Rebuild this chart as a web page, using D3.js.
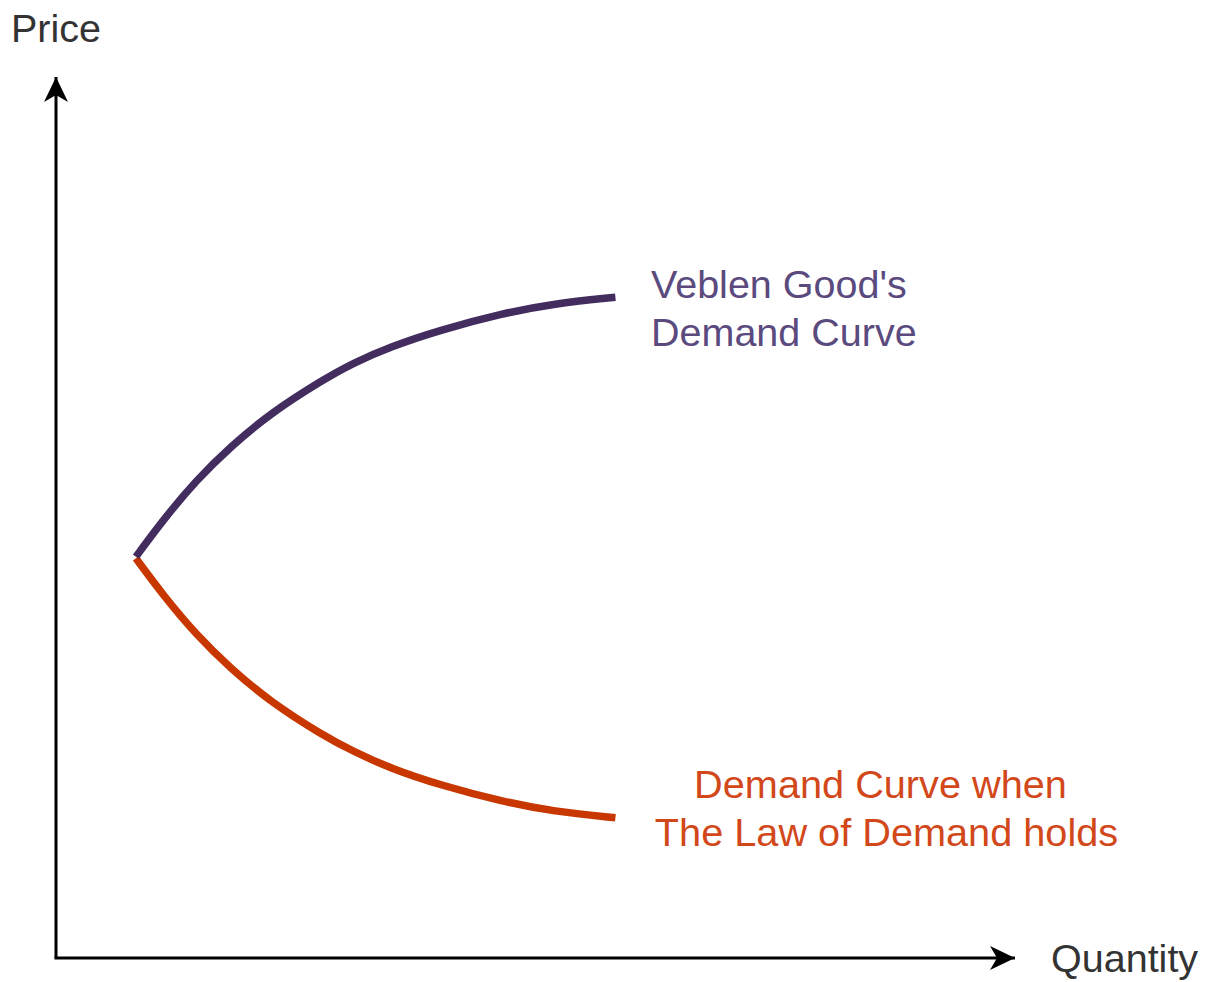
<!DOCTYPE html>
<html>
<head>
<meta charset="utf-8">
<script src="https://cdn.jsdelivr.net/npm/d3@7"></script>
<style>
  html, body { margin: 0; padding: 0; background: #fff; }
  svg { display: block; }
  text { font-family: "Liberation Sans", Arial, Helvetica, sans-serif; }
</style>
</head>
<body>
<svg id="chart" width="1212" height="982"></svg>
<script>
// Data (abstract units)
const quantity = [1.0, 1.34, 1.76, 2.18, 2.68, 3.34, 3.72, 4.18, 4.80, 5.60, 6.22, 7.0];
const veblenPrice = [5.01, 5.47, 5.97, 6.38, 6.80, 7.22, 7.43, 7.63, 7.84, 8.05, 8.17, 8.25];
const lawPrice = [4.99, 4.53, 4.03, 3.62, 3.20, 2.78, 2.58, 2.37, 2.16, 1.95, 1.83, 1.75];
const axisLabels = ["Price", "Quantity"];
const veblenLabel = ["Veblen Good's", "Demand Curve"];
const lawLabel = ["Demand Curve when", "The Law of Demand holds"];

const svg = d3.select("#chart");
const x = d3.scaleLinear().domain([0, 12]).range([56, 1015]);
const y = d3.scaleLinear().domain([0, 11]).range([958, 77]);

const defs = svg.append("defs");
defs.append("marker")
  .attr("id", "arrow")
  .attr("markerUnits", "userSpaceOnUse")
  .attr("viewBox", "-28 -14 30 28")
  .attr("refX", 0).attr("refY", 0)
  .attr("markerWidth", 30).attr("markerHeight", 28)
  .attr("orient", "auto")
  .append("path")
  .attr("d", "M0,0 L-25,-12 L-18,0 L-25,12 Z")
  .attr("fill", "#000");

// Axes
svg.append("line")
  .attr("x1", x(0)).attr("y1", y(0))
  .attr("x2", x(0)).attr("y2", y(11))
  .attr("stroke", "#000").attr("stroke-width", 3)
  .attr("marker-end", "url(#arrow)");
svg.append("line")
  .attr("x1", x(0) - 1.5).attr("y1", y(0))
  .attr("x2", x(12)).attr("y2", y(0))
  .attr("stroke", "#000").attr("stroke-width", 3)
  .attr("marker-end", "url(#arrow)");

// Curves
const line = d3.line()
  .x(d => x(d[0]))
  .y(d => y(d[1]))
  .curve(d3.curveBasis);

svg.append("path")
  .datum(d3.zip(quantity, lawPrice))
  .attr("d", line)
  .attr("fill", "none")
  .attr("stroke", "#C83700")
  .attr("stroke-width", 7.5);

svg.append("path")
  .datum(d3.zip(quantity, veblenPrice))
  .attr("d", line)
  .attr("fill", "none")
  .attr("stroke", "#432D5F")
  .attr("stroke-width", 7.5);

// Axis labels
svg.append("text")
  .attr("x", 11).attr("y", 42)
  .attr("font-size", 39.5)
  .attr("fill", "#333")
  .text(axisLabels[0]);
svg.append("text")
  .attr("x", 1051).attr("y", 972)
  .attr("font-size", 39.5)
  .attr("fill", "#333")
  .text(axisLabels[1]);

// Curve labels
svg.append("text")
  .attr("font-size", 39.5)
  .attr("fill", "#5A4A7E")
  .selectAll("tspan")
  .data(veblenLabel)
  .join("tspan")
  .attr("x", 651)
  .attr("y", (d, i) => 298 + i * 48)
  .text(d => d);

const lawCenters = [880.5, 886.5];
svg.append("text")
  .attr("font-size", 39.7)
  .attr("fill", "#D2481A")
  .attr("text-anchor", "middle")
  .selectAll("tspan")
  .data(lawLabel)
  .join("tspan")
  .attr("x", (d, i) => lawCenters[i])
  .attr("y", (d, i) => 798 + i * 48)
  .text(d => d);
</script>
</body>
</html>
